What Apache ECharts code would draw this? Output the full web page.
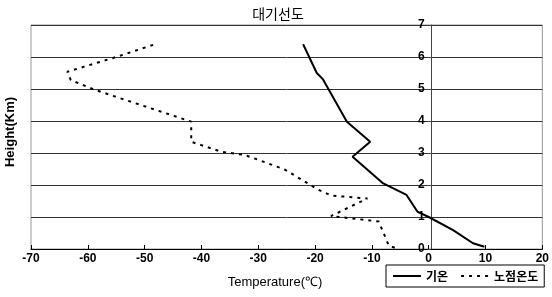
<!DOCTYPE html>
<html>
<head>
<meta charset="utf-8">
<script src="https://cdn.jsdelivr.net/npm/echarts@6/dist/echarts.min.js"></script>
<style>
  html, body { margin: 0; padding: 0; background: #fff; }
  #chart { width: 552px; height: 297px; }
</style>
</head>
<body>
<div id="chart"></div>
<script>
// air temperature (기온), from bottom to top
var tempValues  = [9.8, 7.8, 4.3, 0, -2.0, -3.9, -8.0, -13.4, -10.3, -14.4, -18.6, -19.7, -22.1];
var tempHeights = [0.07, 0.18, 0.59, 1.0, 1.17, 1.69, 2.05, 2.88, 3.35, 3.98, 5.3, 5.5, 6.4];

// dew point (노점온도), from top to bottom
var dewValues  = [-48.5, -55.0, -63.6, -63.0, -58.7, -41.8, -41.8, -36.5, -32.4, -25.4, -19.6, -17.2, -10.8, -17.2, -13.7, -8.8, -7.0, -5.6];
var dewHeights = [6.38, 6.0, 5.54, 5.28, 4.97, 3.98, 3.35, 3.04, 2.94, 2.49, 1.87, 1.67, 1.58, 1.03, 0.96, 0.86, 0.1, 0.02];

var xTicks = { min: -70, max: 20, step: 10 };
var yTicks = { min: 0, max: 7, step: 1 };

function pairs(xs, ys) {
    var out = [];
    for (var i = 0; i < xs.length; i++) {
        out.push([xs[i], ys[i]]);
    }
    return out;
}

var gridLeft = 31, gridRight = 7;
var plotWidth = 552 - gridLeft - gridRight;
// the height axis sits on temperature 0, so shift it from the left edge
var yAxisShift = plotWidth * (0 - xTicks.min) / (xTicks.max - xTicks.min);

var myChart = echarts.init(document.getElementById('chart'));

var labelFont = {
    color: '#000',
    fontSize: 12,
    fontWeight: 'bold',
    fontFamily: 'Liberation Sans, Arial, sans-serif'
};

var option = {
    animation: false,
    backgroundColor: '#fff',
    title: {
        text: '대기선도',
        left: 278,
        top: 7,
        padding: 0,
        textAlign: 'center',
        textStyle: {
            color: '#000',
            fontSize: 14,
            fontWeight: 'normal',
            fontFamily: 'Noto Sans CJK KR'
        }
    },
    legend: {
        left: 386,
        top: 265,
        padding: [5, 6],
        itemWidth: 28,
        itemHeight: 14,
        itemGap: 12,
        itemStyle: { opacity: 0 },
        borderColor: '#000',
        borderWidth: 1,
        borderRadius: 0,
        textStyle: {
            color: '#000',
            fontSize: 12,
            fontWeight: 'bold',
            fontFamily: 'Noto Sans CJK KR'
        },
        data: ['기온', '노점온도']
    },
    grid: {
        left: gridLeft,
        right: gridRight,
        top: 25,
        bottom: 48,
        show: true,
        borderColor: '#999',
        borderWidth: 1
    },
    xAxis: {
        type: 'value',
        min: xTicks.min,
        max: xTicks.max,
        interval: xTicks.step,
        axisLine: { onZero: false, lineStyle: { color: '#000', width: 1 } },
        axisTick: { inside: true, length: 4, lineStyle: { color: '#000' } },
        axisLabel: Object.assign({ margin: 4 }, labelFont),
        splitLine: { show: false }
    },
    yAxis: {
        type: 'value',
        position: 'left',
        offset: -yAxisShift,
        min: yTicks.min,
        max: yTicks.max,
        interval: yTicks.step,
        axisLine: { show: true, onZero: false, lineStyle: { color: '#444', width: 1 } },
        axisTick: { show: true, length: 3, lineStyle: { color: '#444' } },
        axisLabel: Object.assign({ margin: 6 }, labelFont),
        splitLine: { show: true, lineStyle: { color: '#333', width: 1 } }
    },
    graphic: [
        {
            type: 'text',
            x: 10,
            y: 132,
            rotation: Math.PI / 2,
            style: {
                text: 'Height(Km)',
                fill: '#000',
                font: 'bold 13px "Liberation Sans", Arial, sans-serif',
                textAlign: 'center',
                textVerticalAlign: 'middle'
            }
        },
        {
            type: 'text',
            x: 275,
            y: 282,
            style: {
                text: 'Temperature(℃)',
                fill: '#000',
                font: '13px "Liberation Sans", Arial, sans-serif',
                textAlign: 'center',
                textVerticalAlign: 'middle'
            }
        }
    ],
    series: [
        {
            name: '기온',
            type: 'line',
            symbol: 'none',
            lineStyle: { color: '#000', width: 2 },
            itemStyle: { color: '#000' },
            data: pairs(tempValues, tempHeights)
        },
        {
            name: '노점온도',
            type: 'line',
            symbol: 'none',
            lineStyle: { color: '#000', width: 2, type: [3, 5] },
            itemStyle: { color: '#000' },
            data: pairs(dewValues, dewHeights)
        }
    ]
};

myChart.setOption(option);
</script>
</body>
</html>
